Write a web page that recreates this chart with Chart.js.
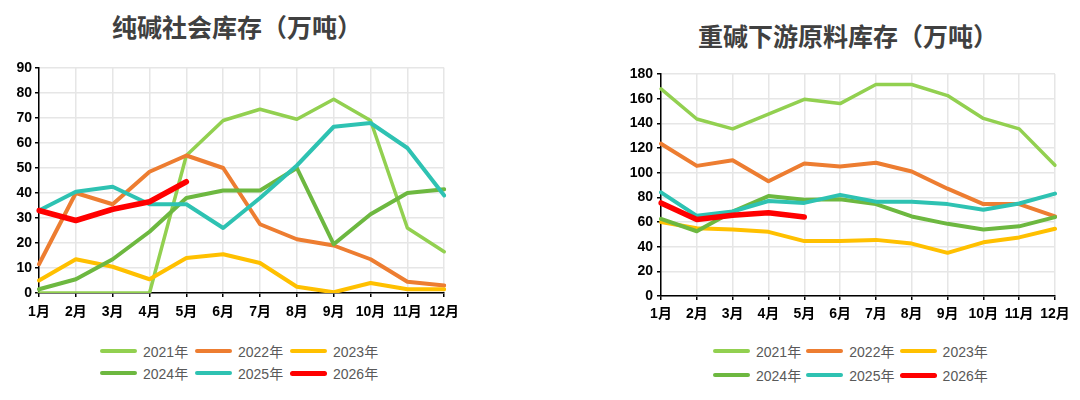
<!DOCTYPE html>
<html>
<head>
<meta charset="utf-8">
<script src="https://cdn.jsdelivr.net/npm/chart.js@4.4.1/dist/chart.umd.min.js"></script>
<style>
  html, body { margin: 0; padding: 0; background: #ffffff; }
  body { width: 1080px; height: 400px; position: relative; overflow: hidden; font-family: "Liberation Sans", "Noto Sans CJK SC", sans-serif; }
  .box { position: absolute; }
  .title { position: absolute; width: 400px; text-align: center; font-family: "Noto Sans CJK SC", sans-serif; font-size: 25px; font-weight: bold; line-height: 30px; color: #404040; white-space: nowrap; }
  .legend { position: absolute; display: grid; font-size: 14px; color: #595959; font-family: "Liberation Sans", "Noto Sans CJK SC", sans-serif; }
  .legend .item { display: flex; align-items: center; white-space: nowrap; }
  .legend .sw { display: inline-block; width: 37px; border-radius: 3px; margin-right: 6px; }
</style>
</head>
<body>
<div class="title" id="tL" style="left:37px;top:11px;"></div>
<div class="title" id="tR" style="left:648px;top:20px;"></div>
<div class="box" id="boxL" style="left:0px;top:0px;width:466px;height:320px;"><canvas id="cL"></canvas></div>
<div class="box" id="boxR" style="left:604px;top:0px;width:476px;height:320px;"><canvas id="cR"></canvas></div>
<div class="legend" id="legL" style="left:100px;top:340px;grid-template-columns:repeat(3,95px);grid-auto-rows:22px;"></div>
<div class="legend" id="legR" style="left:713px;top:339px;grid-template-columns:repeat(3,93.3px);grid-auto-rows:24px;"></div>
<script>
// ---- data ----
const months = ['1月','2月','3月','4月','5月','6月','7月','8月','9月','10月','11月','12月'];
const years = ['2021年','2022年','2023年','2024年','2025年','2026年'];

// 纯碱社会库存（万吨）
const social2021 = [0, 0, 0, 0, 55, 69, 73.5, 69.5, 77.5, 69, 26, 16.5];
const social2022 = [11.5, 40, 35.5, 48.5, 55, 50, 27.5, 21.5, 19, 13.5, 4.5, 3];
const social2023 = [5, 13.5, 10.5, 5.5, 14, 15.5, 12, 2.5, 0.3, 4, 1.5, 1.5];
const social2024 = [1.5, 5.5, 13.5, 24.5, 38, 41, 41, 50, 19.5, 31.5, 40, 41.5];
const social2025 = [33, 40.5, 42.5, 35.5, 35.5, 26, 38, 51, 66.5, 68, 58, 39];
const social2026 = [33, 29, 33.5, 36.5, 44.5];

// 重碱下游原料库存（万吨）
const down2021 = [168, 143.5, 135.5, 147.5, 159.5, 156, 171.5, 171.5, 162.5, 144, 135.5, 106];
const down2022 = [123.5, 105.5, 110, 93, 107.5, 105, 108, 101, 87, 74.5, 74.5, 64.5];
const down2023 = [60, 55, 54, 52, 44.5, 44.5, 45.5, 42.5, 35, 43.5, 47.5, 54.5];
const down2024 = [62.5, 52.5, 68.5, 81, 78, 78.5, 74.5, 64.5, 58.5, 54, 56.5, 64];
const down2025 = [84, 65, 68.5, 77, 75.5, 82, 76.5, 76.5, 74.5, 70, 75, 83];
const down2026 = [75.5, 62, 65.5, 67.5, 64];

const titleL = '纯碱社会库存（万吨）';
const titleR = '重碱下游原料库存（万吨）';

// ---- styles ----
const colors = ['#92D050', '#ED7D31', '#FFC000', '#6DB840', '#2EC2B2', '#FF0000'];
const widths = [3.5, 4, 4, 4, 4, 5.5];

document.getElementById('tL').textContent = titleL;
document.getElementById('tR').textContent = titleR;

function makeDatasets(series) {
  return series.map((d, i) => ({
    label: years[i],
    data: d,
    borderColor: colors[i],
    backgroundColor: colors[i],
    borderWidth: widths[i],
    pointRadius: 0,
    tension: 0,
    fill: false,
    order: series.length - 1 - i,
    borderCapStyle: 'round',
    borderJoinStyle: 'round'
  }));
}

const tickFont = { family: '"Liberation Sans", "Noto Sans CJK SC", sans-serif', size: 14, weight: 'bold' };

function htmlLegendPlugin(id) {
  return {
    id: 'htmlLegend',
    afterUpdate(chart) {
      const el = document.getElementById(id);
      el.innerHTML = '';
      chart.data.datasets.forEach(ds => {
        const item = document.createElement('div');
        item.className = 'item';
        const sw = document.createElement('span');
        sw.className = 'sw';
        sw.style.background = ds.borderColor;
        sw.style.height = (ds.borderWidth >= 5 ? 5 : 4) + 'px';
        const tx = document.createElement('span');
        tx.textContent = ds.label;
        item.appendChild(sw);
        item.appendChild(tx);
        el.appendChild(item);
      });
    }
  };
}

function makeChart(canvasId, legendId, series, yMax, yStep, cfg) {
  return new Chart(document.getElementById(canvasId), {
    type: 'line',
    data: { labels: months, datasets: makeDatasets(series) },
    options: {
      responsive: true,
      maintainAspectRatio: false,
      animation: false,
      layout: { padding: { left: 0, right: cfg.padRight, top: cfg.padTop, bottom: 0 } },
      plugins: {
        legend: { display: false },
        tooltip: { enabled: false },
        title: { display: false }
      },
      scales: {
        x: {
          offset: false,
          grid: { color: '#e6e6e6', lineWidth: 1.5, tickColor: '#000', tickLength: 4, drawTicks: true },
          border: { color: '#000', width: 1.5 },
          ticks: { color: '#000', font: tickFont, padding: cfg.xPad, maxRotation: 0, autoSkip: false },
          afterFit: s => { s.height = cfg.xH; }
        },
        y: {
          min: 0, max: yMax,
          grid: { color: '#e6e6e6', lineWidth: 1.5, tickColor: '#000', tickLength: 4, drawTicks: true },
          border: { color: '#000', width: 1.5 },
          ticks: { color: '#000', font: tickFont, stepSize: yStep, padding: cfg.yPad },
          afterFit: s => { s.width = cfg.yW; }
        }
      }
    },
    plugins: [htmlLegendPlugin(legendId)]
  });
}

makeChart('cL', 'legL',
  [social2021, social2022, social2023, social2024, social2025, social2026],
  90, 10,
  { padRight: 16, padTop: 68, xPad: 7, xH: 27, yPad: 3, yW: 39 });

makeChart('cR', 'legR',
  [down2021, down2022, down2023, down2024, down2025, down2026],
  180, 20,
  { padRight: 25, padTop: 74, xPad: 6, xH: 24, yPad: 4, yW: 57 });
</script>
</body>
</html>
